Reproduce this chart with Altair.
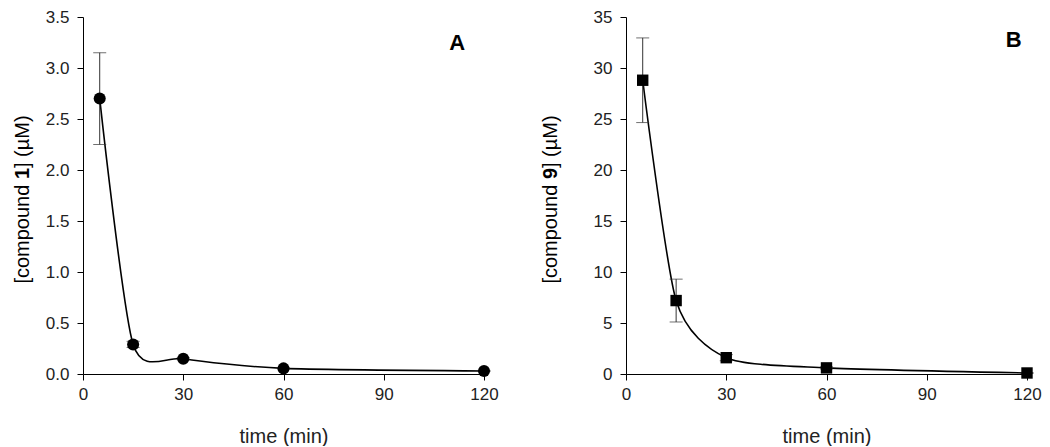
import altair as alt
import pandas as pd

# ---- data ----
time_min = [5, 15, 30, 60, 120]
comp1_uM = [2.70, 0.29, 0.15, 0.055, 0.03]
comp1_err = [0.45, 0.03, 0.01, 0.005, 0.005]
comp9_uM = [28.8, 7.2, 1.6, 0.6, 0.1]
comp9_err = [4.15, 2.1, 0.3, 0.1, 0.05]

x_ticks = [0, 30, 60, 90, 120]
y_ticks_a = [0, 0.5, 1.0, 1.5, 2.0, 2.5, 3.0, 3.5]
y_ticks_b = [0, 5, 10, 15, 20, 25, 30, 35]

FONT = "Liberation Sans"
W, H = 401, 357


def make_panel(vals, errs, shape, yticks, yfmt, number, letter, letter_xy, title_x):
    df = pd.DataFrame({
        "t": time_min,
        "v": vals,
        "lo": [v - e for v, e in zip(vals, errs)],
        "hi": [v + e for v, e in zip(vals, errs)],
    })
    xs = alt.Scale(domain=[0, 120], nice=False, zero=True)
    ys = alt.Scale(domain=[yticks[0], yticks[-1]], nice=False)
    xax = alt.Axis(values=x_ticks, title="time (min)", grid=False, labelFlush=False,
                   tickSize=6, labelPadding=6, titlePadding=24,
                   domainColor="#000", tickColor="#000")
    yax = alt.Axis(values=yticks, format=yfmt, title=None, grid=False, labelFlush=False,
                   tickSize=6, labelPadding=8, domainColor="#000", tickColor="#000")
    base = alt.Chart(df)
    X = alt.X("t:Q", scale=xs, axis=xax)
    line = base.mark_line(interpolate="cardinal", tension=0.3, color="#000", strokeWidth=1.6).encode(
        x=X, y=alt.Y("v:Q", scale=ys, axis=yax))
    rule = base.mark_rule(color="#333", strokeWidth=1).encode(
        x="t:Q", y=alt.Y("lo:Q", scale=ys), y2="hi:Q")
    cap_hi = base.mark_tick(orient="horizontal", color="#333", thickness=1, size=13).encode(
        x="t:Q", y=alt.Y("hi:Q", scale=ys))
    cap_lo = base.mark_tick(orient="horizontal", color="#333", thickness=1, size=13).encode(
        x="t:Q", y=alt.Y("lo:Q", scale=ys))
    pts = base.mark_point(shape=shape, filled=True, color="#000", opacity=1,
                          size=145 if shape == "circle" else 130).encode(
        x="t:Q", y=alt.Y("v:Q", scale=ys))
    lab = alt.Chart(pd.DataFrame({"x": [letter_xy[0]], "y": [letter_xy[1]], "s": [letter]})).mark_text(
        font=FONT, fontSize=22, fontWeight="bold", color="#000").encode(
        x=alt.X("x:Q", scale=xs), y=alt.Y("y:Q", scale=ys), text="s:N")

    # y-axis title with a bold compound number, rotated
    fs = 20
    w1 = 5.225 * fs
    w2 = 0.556 * fs
    total = w1 + w2 + 2.631 * fs
    y0 = H / 2 + 4 + total / 2
    one = pd.DataFrame({"k": [0]})
    parts = [("[compound ", "normal", y0), (number, "bold", y0 - w1),
             ("] (µM)", "normal", y0 - w1 - w2)]
    tlayers = []
    for txt, wt, yy in parts:
        tlayers.append(alt.Chart(one).mark_text(
            font=FONT, fontSize=fs, fontWeight=wt, angle=270, align="left",
            baseline="middle", color="#000").encode(
            x=alt.value(title_x), y=alt.value(yy), text=alt.value(txt)))

    return alt.layer(line, rule, cap_hi, cap_lo, pts, lab, *tlayers).properties(width=W, height=H)


panel_a = make_panel(comp1_uM, comp1_err, "circle", y_ticks_a, ".1f", "1", "A", (112, 3.25), -60)
panel_b = make_panel(comp9_uM, comp9_err, "square", y_ticks_b, "d", "9", "B", (116, 32.7), -75)

chart = alt.hconcat(panel_a, panel_b, spacing=42).properties(
    padding={"left": 5, "top": 0, "right": 0, "bottom": 0},
    background="white",
).configure_view(stroke=None).configure_axis(
    labelFont=FONT, labelFontSize=17, labelColor="#222",
    titleFont=FONT, titleFontSize=20, titleFontWeight="normal", titleColor="#222"
)

chart.save("out.html", embed_options={"renderer": "svg", "actions": False})
